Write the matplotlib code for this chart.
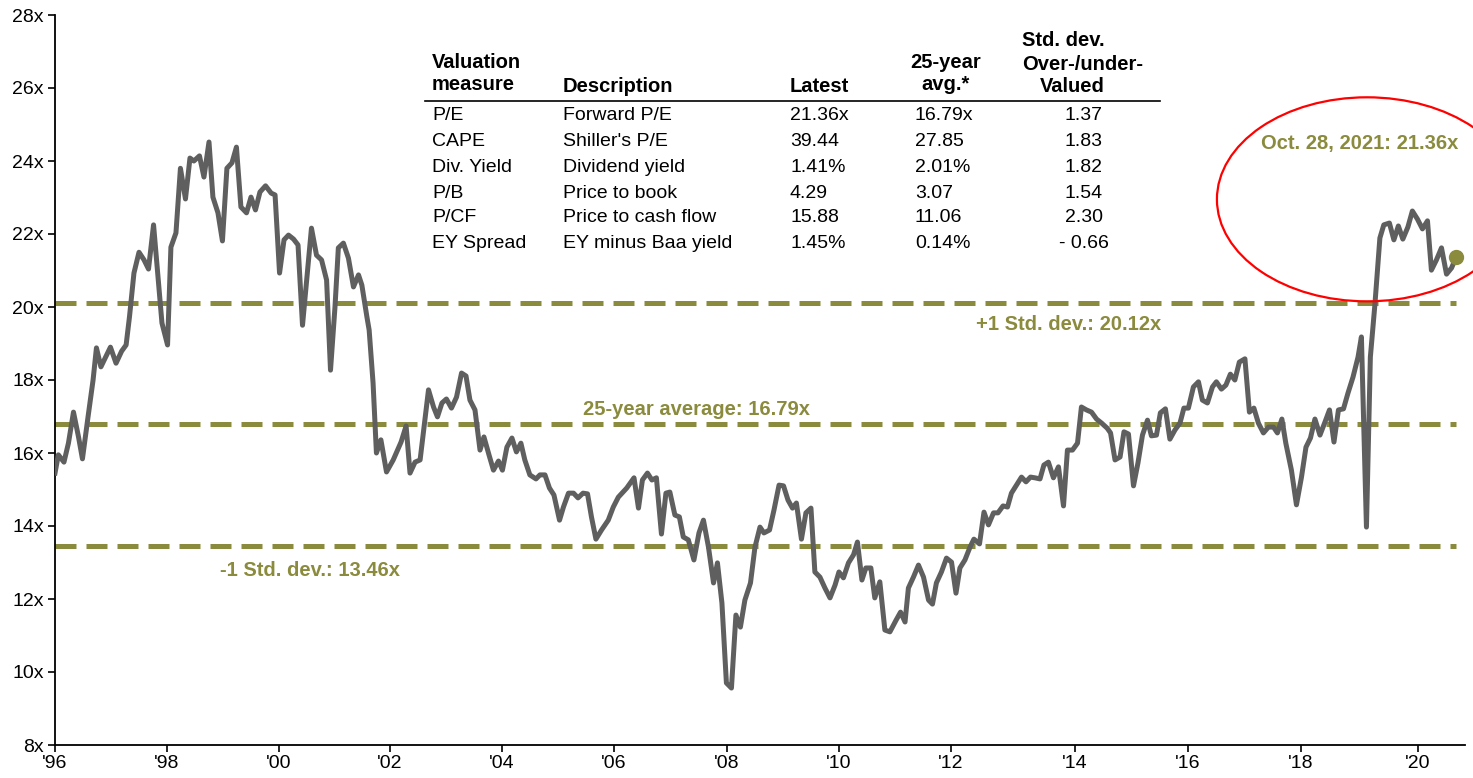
import matplotlib
matplotlib.use("Agg")
import matplotlib.pyplot as plt
from matplotlib.patches import Ellipse

# ---------------- data ----------------
years = [1996.00, 1996.06, 1996.16, 1996.24, 1996.33, 1996.42, 1996.49, 1996.59, 1996.68, 1996.74,
         1996.82, 1996.99, 1997.09, 1997.19, 1997.27, 1997.33, 1997.41, 1997.50, 1997.59, 1997.67,
         1997.76, 1997.83, 1997.91, 1998.01, 1998.07, 1998.16, 1998.24, 1998.33, 1998.41, 1998.48,
         1998.58, 1998.66, 1998.75, 1998.82, 1998.91, 1998.99, 1999.07, 1999.16, 1999.24, 1999.32,
         1999.42, 1999.50, 1999.58, 1999.66, 1999.76, 1999.86, 1999.93, 2000.01, 2000.09, 2000.17,
         2000.26, 2000.34, 2000.42, 2000.58, 2000.67, 2000.76, 2000.85, 2000.92, 2001.00, 2001.06,
         2001.15, 2001.24, 2001.33, 2001.42, 2001.48, 2001.57, 2001.61, 2001.68, 2001.74, 2001.82,
         2001.92, 2002.04, 2002.18, 2002.27, 2002.34, 2002.43, 2002.52, 2002.59, 2002.67, 2002.76,
         2002.83, 2002.91, 2002.99, 2003.08, 2003.17, 2003.26, 2003.34, 2003.41, 2003.50, 2003.59,
         2003.66, 2003.75, 2003.83, 2003.92, 2003.99, 2004.07, 2004.16, 2004.24, 2004.32, 2004.39,
         2004.48, 2004.59, 2004.66, 2004.75, 2004.83, 2004.91, 2005.01, 2005.08, 2005.17, 2005.26,
         2005.34, 2005.43, 2005.51, 2005.58, 2005.66, 2005.76, 2005.88, 2005.97, 2006.06, 2006.21,
         2006.34, 2006.42, 2006.49, 2006.58, 2006.66, 2006.74, 2006.83, 2006.91, 2006.98, 2007.07,
         2007.15, 2007.22, 2007.31, 2007.41, 2007.50, 2007.58, 2007.67, 2007.76, 2007.83, 2007.91,
         2007.99, 2008.08, 2008.16, 2008.24, 2008.32, 2008.42, 2008.50, 2008.59, 2008.66, 2008.76,
         2008.84, 2008.93, 2009.01, 2009.09, 2009.17, 2009.24, 2009.33, 2009.41, 2009.50, 2009.57,
         2009.66, 2009.75, 2009.84, 2009.93, 2010.00, 2010.08, 2010.17, 2010.26, 2010.33, 2010.41,
         2010.48, 2010.57, 2010.64, 2010.73, 2010.82, 2010.91, 2011.02, 2011.10, 2011.18, 2011.24,
         2011.33, 2011.42, 2011.51, 2011.60, 2011.67, 2011.74, 2011.83, 2011.92, 2012.01, 2012.09,
         2012.16, 2012.25, 2012.34, 2012.41, 2012.51, 2012.59, 2012.67, 2012.76, 2012.84, 2012.93,
         2013.01, 2013.08, 2013.17, 2013.26, 2013.34, 2013.42, 2013.50, 2013.59, 2013.66, 2013.74,
         2013.83, 2013.92, 2014.01, 2014.08, 2014.17, 2014.26, 2014.33, 2014.42, 2014.51, 2014.60,
         2014.69, 2014.79, 2014.85, 2014.93, 2015.02, 2015.09, 2015.17, 2015.26, 2015.34, 2015.42,
         2015.51, 2015.58, 2015.67, 2015.74, 2015.83, 2015.91, 2016.00, 2016.09, 2016.16, 2016.24,
         2016.33, 2016.42, 2016.49, 2016.58, 2016.67, 2016.74, 2016.83, 2016.91, 2016.99, 2017.07,
         2017.15, 2017.25, 2017.33, 2017.41, 2017.49, 2017.58, 2017.67, 2017.76, 2017.83, 2017.91,
         2017.98, 2018.08, 2018.17, 2018.26, 2018.34, 2018.42, 2018.50, 2018.59, 2018.68, 2018.76,
         2018.84, 2018.92, 2019.01, 2019.09, 2019.18, 2019.27, 2019.33, 2019.42, 2019.49, 2019.57,
         2019.66, 2019.73, 2019.83, 2019.91, 2019.99, 2020.07, 2020.16, 2020.24, 2020.33, 2020.42,
         2020.51, 2020.58, 2020.67, 2020.76, 2020.85, 2020.94, 2021.02]

forward_pe = [15.45, 15.95, 15.75, 16.27, 17.12, 16.44, 15.84, 16.99, 18.00, 18.88,
              18.36, 18.90, 18.46, 18.79, 18.96, 19.73, 20.93, 21.50, 21.29, 21.04,
              22.25, 21.01, 19.56, 18.96, 21.64, 22.03, 23.80, 22.96, 24.08, 24.00,
              24.14, 23.56, 24.52, 23.01, 22.58, 21.81, 23.80, 23.95, 24.38, 22.74,
              22.58, 23.01, 22.66, 23.15, 23.32, 23.12, 23.07, 20.93, 21.84, 21.97,
              21.86, 21.70, 19.50, 22.16, 21.42, 21.29, 20.74, 18.27, 20.00, 21.62,
              21.75, 21.34, 20.55, 20.88, 20.60, 19.73, 19.37, 17.92, 16.00, 16.36,
              15.48, 15.81, 16.30, 16.74, 15.45, 15.75, 15.81, 16.71, 17.73, 17.26,
              16.99, 17.37, 17.48, 17.23, 17.53, 18.19, 18.11, 17.45, 17.18, 16.08,
              16.44, 15.95, 15.53, 15.78, 15.53, 16.16, 16.41, 16.03, 16.27, 15.81,
              15.40, 15.29, 15.40, 15.40, 15.04, 14.85, 14.16, 14.52, 14.90, 14.90,
              14.77, 14.90, 14.88, 14.25, 13.64, 13.89, 14.16, 14.52, 14.79, 15.04,
              15.32, 14.49, 15.26, 15.45, 15.26, 15.32, 13.78, 14.90, 14.93, 14.30,
              14.25, 13.70, 13.62, 13.07, 13.81, 14.16, 13.42, 12.44, 12.99, 11.89,
              9.70, 9.56, 11.56, 11.23, 11.97, 12.44, 13.42, 13.97, 13.81, 13.89,
              14.44, 15.12, 15.10, 14.71, 14.49, 14.63, 13.64, 14.36, 14.49, 12.74,
              12.60, 12.30, 12.03, 12.38, 12.74, 12.58, 12.99, 13.21, 13.56, 12.52,
              12.85, 12.85, 12.03, 12.47, 11.15, 11.10, 11.42, 11.64, 11.37, 12.30,
              12.60, 12.93, 12.60, 11.97, 11.86, 12.44, 12.74, 13.12, 13.01, 12.16,
              12.85, 13.07, 13.42, 13.64, 13.51, 14.38, 14.03, 14.36, 14.36, 14.55,
              14.52, 14.90, 15.12, 15.34, 15.21, 15.34, 15.32, 15.29, 15.67, 15.75,
              15.32, 15.62, 14.55, 16.08, 16.08, 16.27, 17.26, 17.18, 17.12, 16.93,
              16.82, 16.68, 16.55, 15.81, 15.89, 16.58, 16.52, 15.10, 15.73, 16.49,
              16.90, 16.47, 16.49, 17.10, 17.21, 16.38, 16.63, 16.82, 17.23, 17.23,
              17.81, 17.95, 17.45, 17.37, 17.81, 17.95, 17.75, 17.86, 18.16, 18.00,
              18.49, 18.58, 17.12, 17.23, 16.82, 16.55, 16.71, 16.71, 16.55, 16.93,
              16.27, 15.53, 14.58, 15.34, 16.16, 16.41, 16.93, 16.49, 16.85, 17.18,
              16.30, 17.18, 17.21, 17.64, 18.08, 18.63, 19.18, 13.97, 18.63, 20.05,
              21.89, 22.25, 22.30, 21.84, 22.22, 21.86, 22.19, 22.63, 22.41, 22.14,
              22.36, 21.01, 21.29, 21.62, 20.90, 21.07, 21.36]

avg_25y = 16.79
plus_1sd = 20.12
minus_1sd = 13.46
latest_value = 21.36
latest_label = "Oct. 28, 2021: 21.36x"

tick_positions = [1996, 1998, 2000, 2001.98, 2003.98, 2005.98, 2008, 2010, 2012,
                  2014.21, 2016.23, 2018.25, 2020.34]
tick_labels = ["'96", "'98", "'00", "'02", "'04", "'06", "'08", "'10", "'12",
               "'14", "'16", "'18", "'20"]
y_ticks = [8, 10, 12, 14, 16, 18, 20, 22, 24, 26, 28]

table_header = ["Valuation\nmeasure", "Description", "Latest", "25-year\navg.*",
                "Std. dev.\nOver-/under-\n Valued"]
measures = ["P/E", "CAPE", "Div. Yield", "P/B", "P/CF", "EY Spread"]
descriptions = ["Forward P/E", "Shiller's P/E", "Dividend yield", "Price to book",
                "Price to cash flow", "EY minus Baa yield"]
latest = ["21.36x", "39.44", "1.41%", "4.29", "15.88", "1.45%"]
avg25 = ["16.79x", "27.85", "2.01%", "3.07", "11.06", "0.14%"]
std_dev = ["1.37", "1.83", "1.82", "1.54", "2.30", "- 0.66"]

# ---------------- style ----------------
OLIVE = "#8A8B3D"
GREY = "#5F5F5F"
W, H = 1473, 778
plt.rcParams["font.family"] = ["Liberation Sans", "DejaVu Sans"]

fig = plt.figure(figsize=(W / 100, H / 100), dpi=100)
ax = fig.add_axes([55 / W, 33 / H, (1465 - 55) / W, (745 - 15) / H])

ax.plot(years, forward_pe, color=GREY, lw=3.6, solid_joinstyle="round", zorder=3)
ax.plot([years[-1]], [latest_value], "o", color=OLIVE, ms=10, zorder=4)

for lvl in (plus_1sd, avg_25y, minus_1sd):
    ax.plot([years[0], years[-1]], [lvl, lvl], color=OLIVE, lw=3.6,
            dashes=(4.2, 2.0), zorder=2)

ax.text(2014.11, 19.51, f"+1 Std. dev.: {plus_1sd:.2f}x", color=OLIVE,
        fontsize=14.5, fontweight="bold", ha="center", va="center")
ax.text(2007.45, 17.20, f"25-year average: {avg_25y:.2f}x", color=OLIVE,
        fontsize=14.5, fontweight="bold", ha="center", va="center")
ax.text(2000.55, 12.77, f"-1 Std. dev.: {minus_1sd:.2f}x", color=OLIVE,
        fontsize=14.5, fontweight="bold", ha="center", va="center")
ax.text(2019.30, 24.47, latest_label, color=OLIVE,
        fontsize=14.5, fontweight="bold", ha="center", va="center")

ell = Ellipse((2019.43, 22.95), width=5.36, height=5.59, fill=False,
              edgecolor="#FF0000", lw=1.6, clip_on=False, zorder=5)
ax.add_patch(ell)

ax.set_xlim(1996, 2021.18)
ax.set_ylim(8, 28)
ax.set_xticks(tick_positions)
ax.set_xticklabels(tick_labels)
ax.set_yticks(y_ticks)
ax.set_yticklabels([f"{v}x" for v in y_ticks])
ax.tick_params(axis="both", labelsize=14, length=5, width=1.2, color="black",
               pad=3)
ax.tick_params(axis="x", pad=2)
for s in ("top", "right"):
    ax.spines[s].set_visible(False)
for s in ("left", "bottom"):
    ax.spines[s].set_linewidth(1.3)

# ---------------- table ----------------
def fx(px):
    return px / W

def fy(py):
    return 1 - py / H

# headers
fig.text(fx(432), fy(62), "Valuation", fontsize=14.5, fontweight="bold", va="center")
fig.text(fx(432), fy(85), "measure", fontsize=14.5, fontweight="bold", va="center")
fig.text(fx(563), fy(87), "Description", fontsize=14.5, fontweight="bold", va="center")
fig.text(fx(790), fy(87), "Latest", fontsize=14.5, fontweight="bold", va="center")
fig.text(fx(946), fy(62), "25-year", fontsize=14.5, fontweight="bold", va="center", ha="center")
fig.text(fx(946), fy(85), "avg.*", fontsize=14.5, fontweight="bold", va="center", ha="center")
fig.text(fx(1022), fy(40), "Std. dev.", fontsize=14.5, fontweight="bold", va="center")
fig.text(fx(1022), fy(64), "Over-/under-", fontsize=14.5, fontweight="bold", va="center")
fig.text(fx(1040), fy(87), "Valued", fontsize=14.5, fontweight="bold", va="center")

fig.add_artist(plt.Line2D([fx(425), fx(1160)], [fy(101), fy(101)], color="black", lw=1.2))

row_y = [116, 142, 168, 193, 218, 244]
for i, yy in enumerate(row_y):
    fig.text(fx(432), fy(yy), measures[i], fontsize=14, va="center")
    fig.text(fx(563), fy(yy), descriptions[i], fontsize=14, va="center")
    fig.text(fx(790), fy(yy), latest[i], fontsize=14, va="center")
    fig.text(fx(915), fy(yy), avg25[i], fontsize=14, va="center")
    fig.text(fx(1084), fy(yy), std_dev[i], fontsize=14, va="center", ha="center")

fig.savefig("out.png", dpi=100)
